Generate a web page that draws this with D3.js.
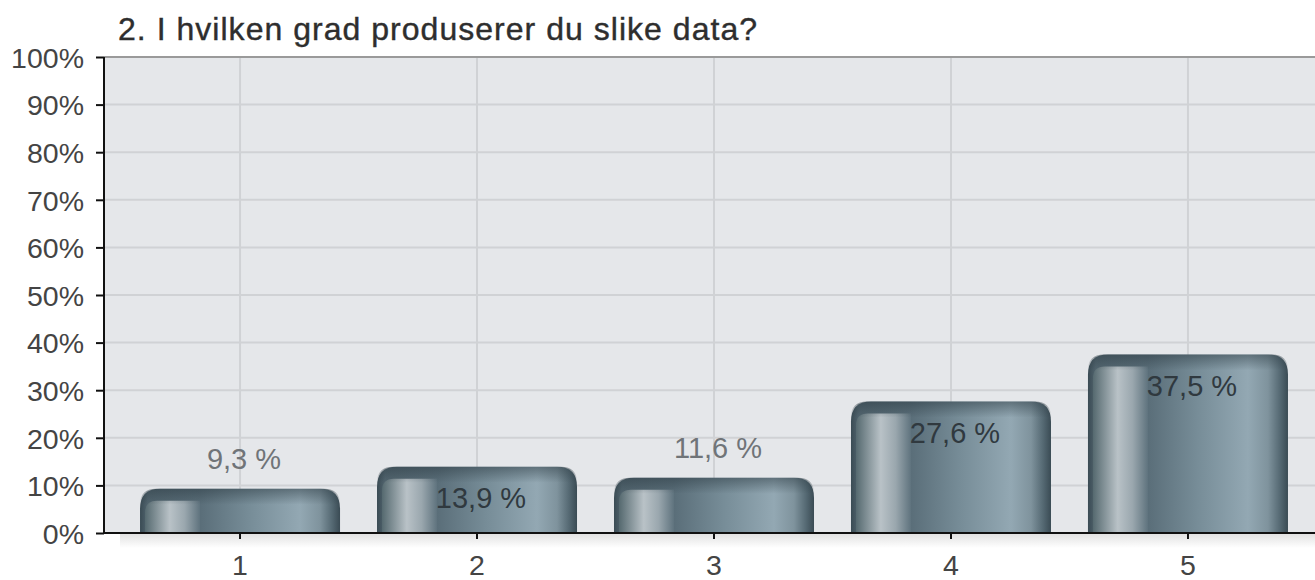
<!DOCTYPE html>
<html>
<head>
<meta charset="utf-8">
<script src="https://cdn.jsdelivr.net/npm/d3@7"></script>
<style>
  html, body { margin: 0; padding: 0; background: #ffffff; }
  svg { display: block; font-family: "Liberation Sans", Arial, sans-serif; }
</style>
</head>
<body>
<svg id="chart" width="1315" height="580"></svg>
<script>
const title = "2. I hvilken grad produserer du slike data?";
const categories = ["1", "2", "3", "4", "5"];
const values = [9.3, 13.9, 11.6, 27.6, 37.5];
const valueLabels = ["9,3 %", "13,9 %", "11,6 %", "27,6 %", "37,5 %"];
const yTicks = [0, 10, 20, 30, 40, 50, 60, 70, 80, 90, 100];
const yTickLabels = ["0%", "10%", "20%", "30%", "40%", "50%", "60%", "70%", "80%", "90%", "100%"];

const svg = d3.select("#chart");
const plot = { left: 104, right: 1324, top: 57, bottom: 533 };

const x = d3.scaleBand()
  .domain(categories)
  .range([plot.left, plot.right])
  .paddingInner(0.156)
  .paddingOuter(0.152);
const y = d3.scaleLinear().domain([0, 100]).range([plot.bottom, plot.top]);

const defs = svg.append("defs");
function lin(id, stops, vertical) {
  const g = defs.append("linearGradient").attr("id", id)
    .attr("x1", 0).attr("y1", 0)
    .attr("x2", vertical ? 0 : 1).attr("y2", vertical ? 1 : 0);
  stops.forEach(s => g.append("stop").attr("offset", s[0]).attr("stop-color", s[1]).attr("stop-opacity", s[2] == null ? 1 : s[2]));
}
lin("body", [[0, "#3a4b54"], [0.04, "#52656f"], [0.30, "#5a6e79"], [0.55, "#778d98"], [0.80, "#93a8b3"], [0.90, "#7f939d"], [0.96, "#556973"], [1, "#3a4b54"]]);
lin("hi", [[0, "#55696f"], [0.45, "#b9c2c7"], [0.72, "#9aa7ae"], [1, "#5f737e"]]);
lin("topShade", [[0, "#2c3b43", 0.5], [1, "#2c3b43", 0]], true);
lin("floorShadow", [[0, "#e2e2e2"], [1, "#ffffff"]], true);

// plot background
svg.append("rect").attr("x", plot.left).attr("y", plot.top)
  .attr("width", plot.right - plot.left).attr("height", plot.bottom - plot.top)
  .attr("fill", "#e5e7ea");

// floor shadow
svg.append("rect").attr("x", 120).attr("y", plot.bottom + 1)
  .attr("width", plot.right - 120).attr("height", 14)
  .attr("fill", "url(#floorShadow)");

// horizontal grid
svg.append("g").selectAll("line").data(yTicks.filter(d => d > 0 && d < 100)).join("line")
  .attr("x1", plot.left).attr("x2", plot.right)
  .attr("y1", d => y(d)).attr("y2", d => y(d))
  .attr("stroke", "#d0d2d5").attr("stroke-width", 2);

// vertical grid
svg.append("g").selectAll("line").data(categories).join("line")
  .attr("x1", d => x(d) + x.bandwidth() / 2).attr("x2", d => x(d) + x.bandwidth() / 2)
  .attr("y1", plot.top).attr("y2", plot.bottom)
  .attr("stroke", "#d0d2d5").attr("stroke-width", 2);

// top border
svg.append("line").attr("x1", plot.left).attr("x2", plot.right)
  .attr("y1", plot.top).attr("y2", plot.top)
  .attr("stroke", "#9a9a9a").attr("stroke-width", 2);

function topRounded(x0, y0, w, h, r) {
  r = Math.min(r, h, w / 2);
  return `M${x0},${y0 + h}V${y0 + r}Q${x0},${y0} ${x0 + r},${y0}H${x0 + w - r}Q${x0 + w},${y0} ${x0 + w},${y0 + r}V${y0 + h}Z`;
}
function leftRounded(x0, y0, w, h, r) {
  return `M${x0},${y0 + h}V${y0 + r}Q${x0},${y0} ${x0 + r},${y0}H${x0 + w}V${y0 + h}Z`;
}

const bars = svg.append("g").selectAll("g").data(categories).join("g");
bars.each(function (c, i) {
  const g = d3.select(this);
  const bx = x(c), bw = x.bandwidth();
  const top = y(values[i]), h = y(0) - top;
  g.append("path").attr("d", topRounded(bx, top, bw, h, 20)).attr("fill", "url(#body)");
  g.append("path").attr("d", leftRounded(bx + 5, top + 12, bw * 0.30 - 5, h - 12, 12)).attr("fill", "url(#hi)");
  g.append("path").attr("d", topRounded(bx, top, bw, 16, 20)).attr("fill", "url(#topShade)");
});

// value labels
svg.append("g").selectAll("text").data(categories).join("text")
  .attr("x", d => x(d) + x.bandwidth() / 2 + 4)
  .attr("y", (d, i) => values[i] >= 12 ? y(values[i]) + 41 : y(values[i]) - 20)
  .attr("text-anchor", "middle")
  .attr("font-size", 29)
  .attr("fill", (d, i) => values[i] >= 12 ? "#30393f" : "#707478")
  .text((d, i) => valueLabels[i]);

// axes
const yAxis = svg.append("g").attr("transform", `translate(${plot.left},0)`)
  .call(d3.axisLeft(y).tickValues(yTicks).tickSize(8).tickPadding(12).tickFormat((d, i) => yTickLabels[i]));
yAxis.select(".domain").attr("stroke", "#111").attr("stroke-width", 2).attr("d", `M0,${plot.top}V${plot.bottom}`);
yAxis.selectAll(".tick line").attr("stroke", "#111").attr("stroke-width", 2);
yAxis.selectAll(".tick text").attr("font-size", 28.5).attr("fill", "#444").attr("font-family", "Liberation Sans, Arial, sans-serif").attr("dy", "0.36em");

const xAxis = svg.append("g").attr("transform", `translate(0,${plot.bottom})`)
  .call(d3.axisBottom(x).tickSize(6).tickPadding(16));
xAxis.select(".domain").attr("stroke", "#111").attr("stroke-width", 2).attr("d", `M${plot.left},0H${plot.right}`);
xAxis.selectAll(".tick line").attr("stroke", "#111").attr("stroke-width", 2);
xAxis.selectAll(".tick text").attr("font-size", 28.5).attr("fill", "#444").attr("font-family", "Liberation Sans, Arial, sans-serif");

// title
svg.append("text").attr("x", 118).attr("y", 40)
  .attr("font-size", 32).attr("fill", "#2e2e2e")
  .attr("stroke", "#2e2e2e").attr("stroke-width", 0.4)
  .attr("textLength", 639).attr("lengthAdjust", "spacing")
  .text(title);
</script>
</body>
</html>
